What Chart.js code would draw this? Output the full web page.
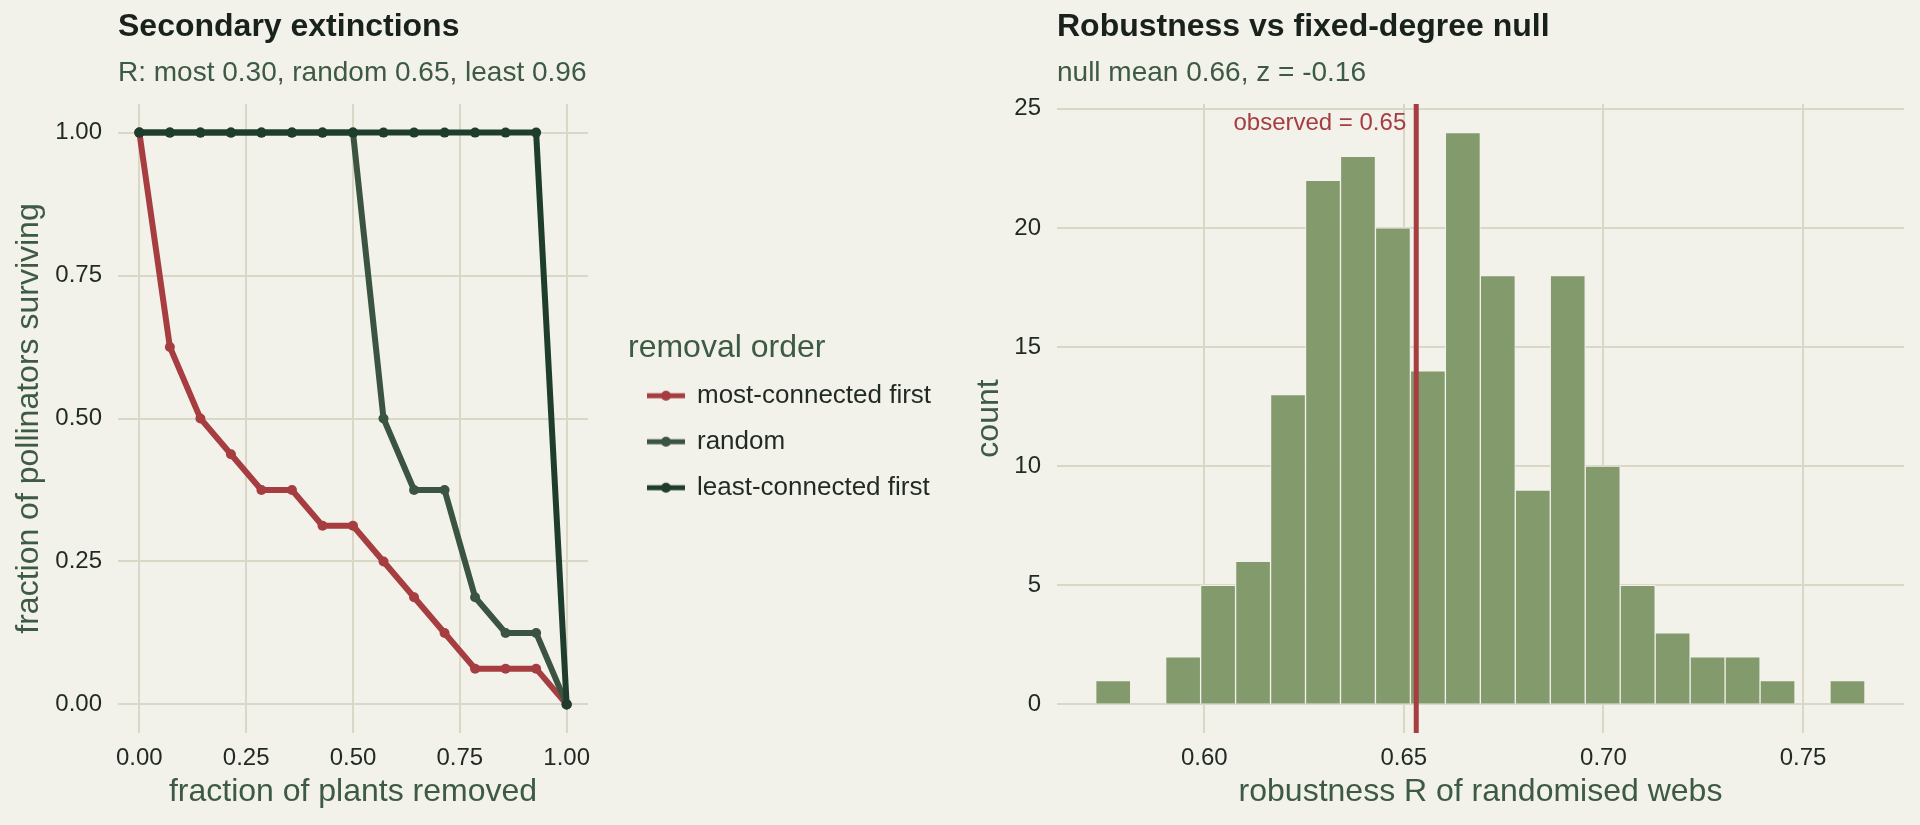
<!DOCTYPE html>
<html>
<head>
<meta charset="utf-8">
<script src="https://cdn.jsdelivr.net/npm/chart.js@4.4.1/dist/chart.umd.min.js"></script>
<style>
  html, body { margin: 0; padding: 0; background: #f2f1ea; }
  body { width: 1920px; height: 825px; position: relative; overflow: hidden; }
  canvas { position: absolute; top: 0; }
  #extinctions { left: 0; }
  #nullModel { left: 960px; }
</style>
</head>
<body>
<canvas id="extinctions" width="960" height="825"></canvas>
<canvas id="nullModel" width="960" height="825"></canvas>
<script>
// left panel: share of pollinators still alive as plants get removed
const plantsRemoved = [0, 0.0714, 0.1429, 0.2143, 0.2857, 0.3571, 0.4286, 0.5, 0.5714, 0.6429, 0.7143, 0.7857, 0.8571, 0.9286, 1];
const mostFirst = [1, 0.625, 0.5, 0.4375, 0.375, 0.375, 0.3125, 0.3125, 0.25, 0.1875, 0.125, 0.0625, 0.0625, 0.0625, 0];
const randomOrder = [1, 1, 1, 1, 1, 1, 1, 1, 0.5, 0.375, 0.375, 0.1875, 0.125, 0.125, 0];
const leastFirst = [1, 1, 1, 1, 1, 1, 1, 1, 1, 1, 1, 1, 1, 1, 0];
const orderNames = ['most-connected first', 'random', 'least-connected first'];
const fracTicks = [0, 0.25, 0.5, 0.75, 1];
const fracRange = [-0.05, 1.05];

// right panel: histogram of R for the randomised webs
const binMids = [0.57718, 0.58594, 0.59470, 0.60346, 0.61222, 0.62098, 0.62974, 0.63850, 0.64726, 0.65602, 0.66478,
                 0.67354, 0.68230, 0.69106, 0.69982, 0.70858, 0.71734, 0.72610, 0.73486, 0.74362, 0.75238, 0.76114];
const binCounts = [1, 0, 2, 5, 6, 13, 22, 23, 20, 14, 24, 18, 9, 18, 10, 5, 3, 2, 2, 1, 0, 1];
const observedR = 0.6531;
const rTicks = [0.60, 0.65, 0.70, 0.75];
const rRange = [0.5631, 0.7753];
const countTicks = [0, 5, 10, 15, 20, 25];
const countRange = [-1.2, 25.2];

const PAPER = '#f2f1ea';
const GRID = '#d9d8c7';
const INK = '#1f2a23';
const TITLE_INK = '#18211c';
const MOSS = '#3d5a45';
const RED = '#a63d40';
const RANDOM_GREEN = '#3b5442';
const DARK_GREEN = '#1f3d2c';
const SAGE = '#839a6d';

Chart.defaults.font.family = '"Liberation Sans", Arial, Helvetica, sans-serif';

const pairs = (xs, ys) => xs.map((x, i) => ({ x: x, y: ys[i] }));
const tickFont = { size: 24 };
const axisFont = { size: 32 };

function legendKey(color) {
    // little line-with-dot swatch like the ggplot key
    const c = document.createElement('canvas');
    c.width = 38;
    c.height = 12;
    const g = c.getContext('2d');
    g.strokeStyle = color;
    g.lineWidth = 5;
    g.beginPath();
    g.moveTo(0, 6);
    g.lineTo(38, 6);
    g.stroke();
    g.fillStyle = color;
    g.beginPath();
    g.arc(19, 6, 5, 0, Math.PI * 2);
    g.fill();
    return c;
}

// keep the legend column a fixed width so the plot panel lands in the same place
const legendSlot = {
    id: 'legendSlot',
    afterInit(chart) {
        const lg = chart.legend;
        const fit = lg.fit;
        lg.fit = function () {
            fit.call(this);
            this.width = 332;
        };
    }
};

const observedLabel = {
    id: 'observedLabel',
    afterDatasetsDraw(chart) {
        const { ctx, scales } = chart;
        ctx.save();
        ctx.font = '24px "Liberation Sans", Arial, sans-serif';
        ctx.fillStyle = RED;
        ctx.textAlign = 'right';
        ctx.textBaseline = 'middle';
        ctx.fillText('observed = ' + observedR.toFixed(2),
            scales.x.getPixelForValue(observedR) - 10, scales.y.getPixelForValue(24.4));
        ctx.restore();
    }
};

function panelTitles(title, subtitle) {
    return {
        title: {
            display: true, text: title, align: 'start', fullSize: false, color: TITLE_INK,
            font: { size: 32, weight: 'bold', lineHeight: 1.2 }, padding: { top: 8, bottom: 0 }
        },
        subtitle: {
            display: true, text: subtitle, align: 'start', fullSize: false, color: MOSS,
            font: { size: 28, lineHeight: 1.2 }, padding: { top: 10, bottom: 14 }
        }
    };
}

function axis(opts) {
    return {
        type: 'linear',
        min: opts.range[0],
        max: opts.range[1],
        offset: false,
        grid: { color: GRID, lineWidth: 2, drawTicks: false, offset: false },
        border: { display: false },
        afterBuildTicks: s => { s.ticks = opts.ticks.map(v => ({ value: v })); },
        afterFit: opts.fit,
        ticks: { padding: opts.pad, font: tickFont, color: INK, callback: opts.fmt },
        title: { display: true, text: opts.title, font: axisFont, color: MOSS, padding: opts.titlePad }
    };
}

const lineSets = [
    { label: orderNames[0], data: pairs(plantsRemoved, mostFirst), borderColor: RED, backgroundColor: RED, order: 3 },
    { label: orderNames[1], data: pairs(plantsRemoved, randomOrder), borderColor: RANDOM_GREEN, backgroundColor: RANDOM_GREEN, order: 2 },
    { label: orderNames[2], data: pairs(plantsRemoved, leastFirst), borderColor: DARK_GREEN, backgroundColor: DARK_GREEN, order: 1 }
];

new Chart(document.getElementById('extinctions'), {
    type: 'line',
    data: { datasets: lineSets },
    options: {
        responsive: false,
        animation: false,
        devicePixelRatio: 1,
        events: [],
        layout: { padding: 0 },
        elements: {
            line: { borderWidth: 6, tension: 0 },
            point: { radius: 5, borderWidth: 0 }
        },
        scales: {
            x: axis({ range: fracRange, ticks: fracTicks, fit: s => { s.height = 92; }, pad: 11,
                fmt: v => v.toFixed(2), title: 'fraction of plants removed', titlePad: { top: 0, bottom: 14 } }),
            y: axis({ range: fracRange, ticks: fracTicks, fit: s => { s.width = 118; }, pad: 16,
                fmt: v => v.toFixed(2), title: 'fraction of pollinators surviving', titlePad: { top: 10, bottom: 0 } }),
            gap: {
                type: 'linear', position: 'right', display: true,
                grid: { display: false }, ticks: { display: false }, border: { display: false },
                afterFit: s => { s.width = 40; }
            }
        },
        plugins: Object.assign(panelTitles('Secondary extinctions', 'R: most 0.30, random 0.65, least 0.96'), {
            tooltip: { enabled: false },
            legend: {
                display: true,
                position: 'right',
                align: 'center',
                fullSize: false,
                title: {
                    display: true, text: 'removal order', color: MOSS, position: 'start',
                    font: { size: 32, lineHeight: 1 }, padding: { top: 16, bottom: -1.6 }
                },
                labels: {
                    usePointStyle: true,
                    pointStyleWidth: 36,
                    padding: 20,
                    color: INK,
                    font: { size: 26 },
                    generateLabels: chart => chart.data.datasets.map((ds, i) => ({
                        text: ds.label,
                        pointStyle: legendKey(ds.borderColor),
                        fillStyle: ds.borderColor,
                        strokeStyle: ds.borderColor,
                        lineWidth: 0,
                        hidden: false,
                        datasetIndex: i,
                        fontColor: INK
                    }))
                }
            }
        })
    },
    plugins: [legendSlot]
});

new Chart(document.getElementById('nullModel'), {
    type: 'bar',
    data: {
        datasets: [
            {
                type: 'bar', label: 'randomised webs', data: pairs(binMids, binCounts),
                backgroundColor: SAGE, borderColor: PAPER, borderWidth: 1,
                barPercentage: 1, categoryPercentage: 1, order: 2
            },
            {
                type: 'line', label: 'observed', data: pairs([observedR, observedR], countRange),
                borderColor: RED, borderWidth: 5, pointRadius: 0, order: 1
            }
        ]
    },
    options: {
        responsive: false,
        animation: false,
        devicePixelRatio: 1,
        events: [],
        layout: { padding: { right: 16 } },
        scales: {
            x: axis({ range: rRange, ticks: rTicks, fit: s => { s.height = 92; }, pad: 11,
                fmt: v => v.toFixed(2), title: 'robustness R of randomised webs', titlePad: { top: 0, bottom: 14 } }),
            y: axis({ range: countRange, ticks: countTicks, fit: s => { s.width = 97; }, pad: 16,
                fmt: v => String(v), title: 'count', titlePad: { top: 10, bottom: 0 } })
        },
        plugins: Object.assign(panelTitles('Robustness vs fixed-degree null', 'null mean 0.66, z = -0.16'), {
            tooltip: { enabled: false },
            legend: { display: false }
        })
    },
    plugins: [observedLabel]
});
</script>
</body>
</html>
